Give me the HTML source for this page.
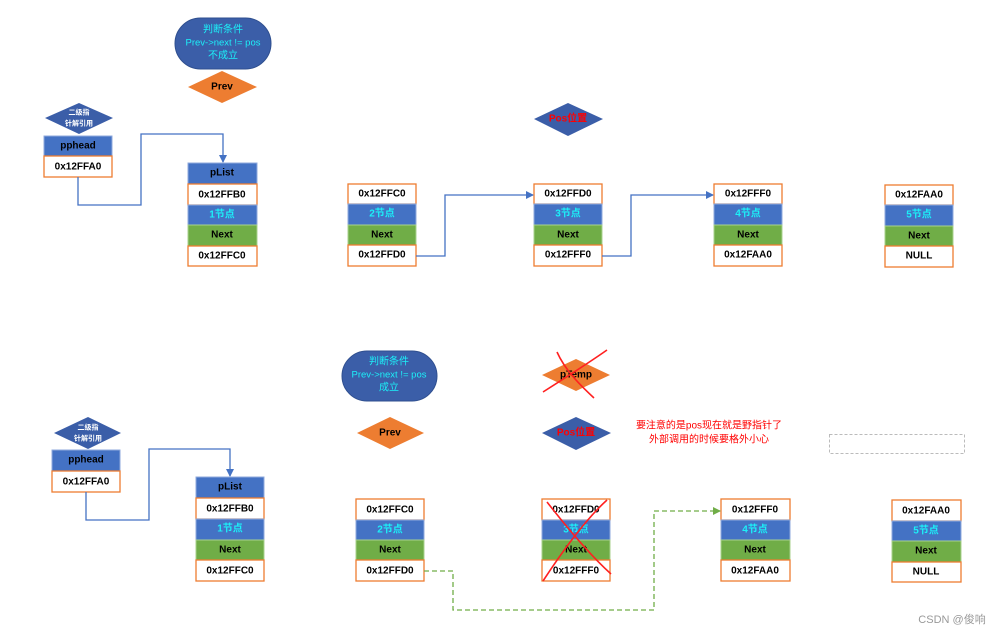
<!DOCTYPE html>
<html><head><meta charset="utf-8">
<style>
html,body{margin:0;padding:0;background:#fff;}
svg{display:block;}
text{font-family:"Liberation Sans","Noto Sans CJK SC",sans-serif;font-size:10px;font-weight:bold;text-anchor:middle;dominant-baseline:central;}
.w{fill:#fff;stroke:#ED7D31;stroke-width:1.3;}
.b{fill:#4472C4;stroke:#8FAADC;stroke-width:1;}
.g{fill:#70AD47;stroke:#A9D18E;stroke-width:1;}
.cy{fill:#1CF0F8;}
.k{fill:#000;}
</style></head><body>
<svg width="1001" height="635" viewBox="0 0 1001 635" xmlns="http://www.w3.org/2000/svg">
<defs>
<marker id="ab" markerWidth="8" markerHeight="8" refX="7" refY="4" orient="auto" markerUnits="userSpaceOnUse"><path d="M0,0 L8,4 L0,8 z" fill="#4472C4"/></marker>
<marker id="ag" markerWidth="8" markerHeight="8" refX="7" refY="4" orient="auto" markerUnits="userSpaceOnUse"><path d="M0,0 L8,4 L0,8 z" fill="#70AD47"/></marker>
</defs>

<!-- ===== TOP ===== -->
<rect x="175" y="18" width="96" height="51" rx="25.5" fill="#3B5EA8" stroke="#2F4F8F"/>
<text x="223" y="30" class="cy" style="font-weight:normal">判断条件</text>
<text x="223" y="43" class="cy" style="font-weight:normal;font-size:9.5px">Prev-&gt;next != pos</text>
<text x="223" y="56" class="cy" style="font-weight:normal">不成立</text>
<polygon points="188,87 222,71 257,87 222,103" fill="#ED7D31"/>
<text x="222" y="87" class="k">Prev</text>

<polygon points="45,118 79,103 113,118 79,134" fill="#3B5EA8"/>
<text x="79" y="113" fill="#fff" style="font-size:7px">二级指</text>
<text x="79" y="124" fill="#fff" style="font-size:7px">针解引用</text>
<rect x="44" y="136" width="68" height="20" class="b"/><text x="78" y="146" class="k">pphead</text>
<rect x="44" y="156" width="68" height="21" class="w"/><text x="78" y="167" class="k">0x12FFA0</text>

<polyline points="78,177 78,205 141,205 141,134 223,134 223,162" fill="none" stroke="#4472C4" stroke-width="1.3" marker-end="url(#ab)"/>

<rect x="188" y="163" width="69" height="21" class="b"/><text x="222" y="173" class="k">pList</text>
<rect x="188" y="184" width="69" height="21" class="w"/><text x="222" y="195" class="k">0x12FFB0</text>
<rect x="188" y="205" width="69" height="20" class="b"/><text x="222" y="215" class="cy">1节点</text>
<rect x="188" y="225" width="69" height="21" class="g"/><text x="222" y="235" class="k">Next</text>
<rect x="188" y="246" width="69" height="20" class="w"/><text x="222" y="256" class="k">0x12FFC0</text>

<!-- node2 -->
<rect x="348" y="184" width="68" height="20" class="w"/><text x="382" y="194" class="k">0x12FFC0</text>
<rect x="348" y="204" width="68" height="21" class="b"/><text x="382" y="214" class="cy">2节点</text>
<rect x="348" y="225" width="68" height="20" class="g"/><text x="382" y="235" class="k">Next</text>
<rect x="348" y="245" width="68" height="21" class="w"/><text x="382" y="255" class="k">0x12FFD0</text>
<!-- node3 -->
<rect x="534" y="184" width="68" height="20" class="w"/><text x="568" y="194" class="k">0x12FFD0</text>
<rect x="534" y="204" width="68" height="21" class="b"/><text x="568" y="214" class="cy">3节点</text>
<rect x="534" y="225" width="68" height="20" class="g"/><text x="568" y="235" class="k">Next</text>
<rect x="534" y="245" width="68" height="21" class="w"/><text x="568" y="255" class="k">0x12FFF0</text>
<!-- node4 -->
<rect x="714" y="184" width="68" height="20" class="w"/><text x="748" y="194" class="k">0x12FFF0</text>
<rect x="714" y="204" width="68" height="21" class="b"/><text x="748" y="214" class="cy">4节点</text>
<rect x="714" y="225" width="68" height="20" class="g"/><text x="748" y="235" class="k">Next</text>
<rect x="714" y="245" width="68" height="21" class="w"/><text x="748" y="255" class="k">0x12FAA0</text>
<!-- node5 -->
<rect x="885" y="185" width="68" height="20" class="w"/><text x="919" y="195" class="k">0x12FAA0</text>
<rect x="885" y="205" width="68" height="21" class="b"/><text x="919" y="215" class="cy">5节点</text>
<rect x="885" y="226" width="68" height="20" class="g"/><text x="919" y="236" class="k">Next</text>
<rect x="885" y="246" width="68" height="21" class="w"/><text x="919" y="256" class="k">NULL</text>

<polyline points="416,256 445,256 445,195 533,195" fill="none" stroke="#4472C4" stroke-width="1.3" marker-end="url(#ab)"/>
<polyline points="602,256 631,256 631,195 713,195" fill="none" stroke="#4472C4" stroke-width="1.3" marker-end="url(#ab)"/>

<polygon points="534,119 568,103 603,119 568,136" fill="#3B5EA8"/>
<text x="568" y="119" fill="#FF0000">Pos位置</text>

<!-- ===== BOTTOM ===== -->
<rect x="342" y="351" width="95" height="50" rx="25" fill="#3B5EA8" stroke="#2F4F8F"/>
<text x="389" y="362" class="cy" style="font-weight:normal">判断条件</text>
<text x="389" y="375" class="cy" style="font-weight:normal;font-size:9.5px">Prev-&gt;next != pos</text>
<text x="389" y="388" class="cy" style="font-weight:normal">成立</text>
<polygon points="357,433 390,417 424,433 390,449" fill="#ED7D31"/>
<text x="390" y="433" class="k">Prev</text>

<polygon points="542,375 576,359 610,375 576,391" fill="#ED7D31"/>
<text x="576" y="375" class="k">pTemp</text>
<path d="M543,392 C565,378 590,362 607,350" stroke="#FF2020" stroke-width="1.6" fill="none"/>
<path d="M557,352 C565,370 580,385 594,398" stroke="#FF2020" stroke-width="1.6" fill="none"/>

<polygon points="542,433 576,417 611,433 576,450" fill="#3B5EA8"/>
<text x="576" y="433" fill="#FF0000">Pos位置</text>

<text x="709" y="426" fill="#FF0000" style="font-weight:normal">要注意的是pos现在就是野指针了</text>
<text x="709" y="440" fill="#FF0000" style="font-weight:normal">外部调用的时候要格外小心</text>

<rect x="829.5" y="434.5" width="135" height="19" fill="none" stroke="#BBBBBB" stroke-dasharray="3,2"/>

<polygon points="54,433 88,417 121,433 88,449" fill="#3B5EA8"/>
<text x="88" y="428" fill="#fff" style="font-size:7px">二级指</text>
<text x="88" y="439" fill="#fff" style="font-size:7px">针解引用</text>
<rect x="52" y="450" width="68" height="21" class="b"/><text x="86" y="460" class="k">pphead</text>
<rect x="52" y="471" width="68" height="21" class="w"/><text x="86" y="482" class="k">0x12FFA0</text>

<polyline points="86,492 86,520 149,520 149,449 230,449 230,476" fill="none" stroke="#4472C4" stroke-width="1.3" marker-end="url(#ab)"/>

<rect x="196" y="477" width="68" height="21" class="b"/><text x="230" y="487" class="k">pList</text>
<rect x="196" y="498" width="68" height="21" class="w"/><text x="230" y="509" class="k">0x12FFB0</text>
<rect x="196" y="519" width="68" height="21" class="b"/><text x="230" y="529" class="cy">1节点</text>
<rect x="196" y="540" width="68" height="20" class="g"/><text x="230" y="550" class="k">Next</text>
<rect x="196" y="560" width="68" height="21" class="w"/><text x="230" y="571" class="k">0x12FFC0</text>

<rect x="356" y="499" width="68" height="21" class="w"/><text x="390" y="510" class="k">0x12FFC0</text>
<rect x="356" y="520" width="68" height="20" class="b"/><text x="390" y="530" class="cy">2节点</text>
<rect x="356" y="540" width="68" height="20" class="g"/><text x="390" y="550" class="k">Next</text>
<rect x="356" y="560" width="68" height="21" class="w"/><text x="390" y="571" class="k">0x12FFD0</text>

<rect x="542" y="499" width="68" height="21" class="w"/><text x="576" y="510" class="k">0x12FFD0</text>
<rect x="542" y="520" width="68" height="20" class="b"/><text x="576" y="530" class="cy">3节点</text>
<rect x="542" y="540" width="68" height="20" class="g"/><text x="576" y="550" class="k">Next</text>
<rect x="542" y="560" width="68" height="21" class="w"/><text x="576" y="571" class="k">0x12FFF0</text>
<path d="M543,581 C560,555 585,520 607,500" stroke="#FF2020" stroke-width="1.6" fill="none"/>
<path d="M547,502 C565,525 590,555 611,574" stroke="#FF2020" stroke-width="1.6" fill="none"/>

<rect x="721" y="499" width="69" height="21" class="w"/><text x="755" y="510" class="k">0x12FFF0</text>
<rect x="721" y="520" width="69" height="20" class="b"/><text x="755" y="530" class="cy">4节点</text>
<rect x="721" y="540" width="69" height="20" class="g"/><text x="755" y="550" class="k">Next</text>
<rect x="721" y="560" width="69" height="21" class="w"/><text x="755" y="571" class="k">0x12FAA0</text>

<rect x="892" y="500" width="69" height="21" class="w"/><text x="926" y="511" class="k">0x12FAA0</text>
<rect x="892" y="521" width="69" height="20" class="b"/><text x="926" y="531" class="cy">5节点</text>
<rect x="892" y="541" width="69" height="21" class="g"/><text x="926" y="551" class="k">Next</text>
<rect x="892" y="562" width="69" height="20" class="w"/><text x="926" y="572" class="k">NULL</text>

<polyline points="424,571 453,571 453,610 654,610 654,511 720,511" fill="none" stroke="#70AD47" stroke-width="1.3" stroke-dasharray="5,3" marker-end="url(#ag)"/>

<text x="952" y="620" fill="#999" style="font-weight:normal;font-size:11px">CSDN @俊响</text>
</svg>
</body></html>
